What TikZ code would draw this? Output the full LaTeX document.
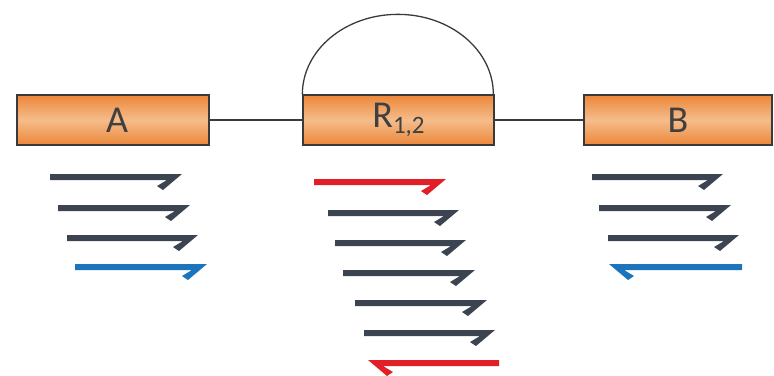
\documentclass[tikz,border=0pt]{standalone}
\usepackage{fontspec}
\setmainfont{Carlito}
\definecolor{drk}{HTML}{3B4450}
\definecolor{blu}{HTML}{1B74BC}
\definecolor{rd}{HTML}{E01F26}
\definecolor{oedge}{HTML}{EC873A}
\definecolor{omid}{HTML}{F5BC8A}
\definecolor{bord}{HTML}{3A3A3A}
\definecolor{txt}{HTML}{404040}
\tikzset{
  box/.style={draw=bord, line width=1.3pt, top color=oedge, bottom color=oedge, middle color=omid,
    minimum height=50pt, inner sep=0pt, font=\fontsize{38}{38}\selectfont, text=txt},
  link/.style={draw=bord, line width=1.3pt}
}
% right-pointing half arrow: #1 start x, #2 tip x, #3 y, #4 colour
\newcommand\harpr[4]{\fill[#4] (#1,#3-3) -- (#2,#3-3) -- (#2-19,#3+13) -- (#2-25,#3+9) -- (#2-15,#3+3) -- (#1,#3+3) -- cycle;}
% left-pointing half arrow: #1 tip x, #2 end x, #3 y, #4 colour
\newcommand\harpl[4]{\fill[#4] (#2,#3-3) -- (#1,#3-3) -- (#1+19,#3+13) -- (#1+25,#3+9) -- (#1+15,#3+3) -- (#2,#3+3) -- cycle;}
\begin{document}
\begin{tikzpicture}[x=1pt,y=-1pt]
\useasboundingbox (0,0) rectangle (774,375);
\node[box, minimum width=192pt] (A) at (113,120) {\hspace*{8pt}A};
\node[box, minimum width=191pt] (R) at (398.5,120) {R\raisebox{-0.35ex}{\fontsize{25}{25}\selectfont 1,2}};
\node[box, minimum width=188pt] (B) at (678,120) {B};
\draw[link] (A.east) -- (R.west);
\draw[link] (R.east) -- (B.west);
\draw[link] (R.north west) arc[start angle=180, end angle=0, x radius=95.5pt, y radius=80pt];
% A group
\harpr{50}{182}{177}{drk}
\harpr{58}{190}{208}{drk}
\harpr{67}{198}{238}{drk}
\harpr{75}{207}{267}{blu}
% R group
\harpr{314}{446}{182}{rd}
\harpr{328}{459}{213}{drk}
\harpr{335}{466}{243}{drk}
\harpr{343}{475}{273}{drk}
\harpr{355}{487}{303}{drk}
\harpr{364}{495}{333}{drk}
\harpl{368}{499}{363}{rd}
% B group
\harpr{592}{723}{177}{drk}
\harpr{599}{731}{208}{drk}
\harpr{608}{739}{238}{drk}
\harpl{609}{742}{267}{blu}
\end{tikzpicture}
\end{document}
